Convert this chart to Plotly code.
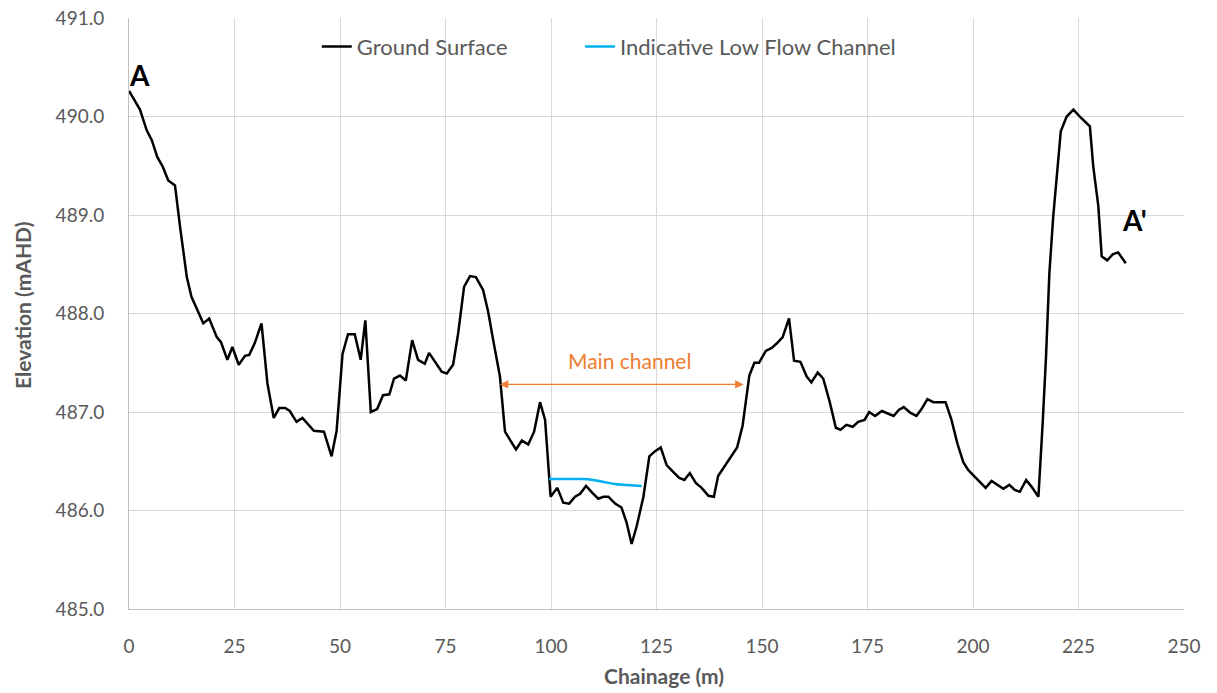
import plotly.graph_objects as go

chainage = [0, 2.6, 4.2, 5.4, 6.7, 8.0, 9.3, 10.9, 12.1, 13.7, 14.8, 16.4, 17.6, 19.0, 20.8, 21.8,
            23.3, 24.5, 26.0, 27.5, 28.5, 29.8, 31.4, 32.8, 34.3, 35.6, 37.0, 38.1, 39.7, 41.1, 42.5,
            43.8, 46.2, 48.0, 49.2, 50.6, 51.9, 53.5, 54.9, 56.0, 57.3, 58.8, 60.2, 61.7, 62.8, 64.2,
            65.6, 67.1, 68.5, 70.1, 71.1, 72.5, 74.1, 75.3, 76.8, 78.0, 79.4, 80.8, 82.2, 83.9, 85.1,
            86.3, 87.9, 89.1, 90.3, 91.7, 93.1, 94.6, 96.0, 97.4, 98.6, 99.9, 101.5, 102.9, 104.3,
            105.7, 106.9, 108.3, 109.8, 111.2, 112.4, 113.6, 115.2, 116.7, 117.9, 119.1, 120.3, 121.9,
            123.3, 124.6, 126.0, 127.4, 129.0, 130.4, 131.6, 132.9, 134.3, 135.7, 137.3, 138.6, 139.6,
            141.2, 142.6, 144.1, 145.4, 146.2, 147.0, 148.2, 149.3, 150.9, 152.3, 153.6, 154.9, 156.4,
            157.6, 159.1, 160.6, 161.7, 163.2, 164.5, 166.0, 167.5, 168.6, 170.0, 171.5, 172.8, 174.3,
            175.4, 176.8, 178.4, 179.7, 181.2, 182.4, 183.6, 185.2, 186.6, 187.8, 189.2, 190.6, 192.0,
            193.5, 194.9, 196.3, 197.7, 198.9, 200.5, 201.7, 203.0, 204.4, 205.7, 207.2, 208.6, 209.9,
            211.1, 212.6, 213.9, 215.5, 216.5, 217.3, 218.1, 219.0, 220.0, 220.8, 222.2, 223.8, 225.5,
            226.5, 227.7, 228.5, 229.7, 230.5, 231.8, 233.1, 234.4, 236.2]
elevation = [490.26, 490.07, 489.86, 489.76, 489.59, 489.49, 489.35, 489.30, 488.88, 488.37, 488.17,
             488.02, 487.90, 487.95, 487.76, 487.71, 487.53, 487.66, 487.48, 487.57, 487.58, 487.70,
             487.90, 487.29, 486.94, 487.04, 487.04, 487.01, 486.90, 486.94, 486.87, 486.81, 486.80,
             486.55, 486.81, 487.59, 487.79, 487.79, 487.53, 487.93, 487.00, 487.03, 487.17, 487.18,
             487.34, 487.37, 487.32, 487.73, 487.53, 487.49, 487.60, 487.51, 487.41, 487.39, 487.48,
             487.80, 488.27, 488.38, 488.37, 488.24, 488.02, 487.73, 487.36, 486.80, 486.72, 486.62,
             486.71, 486.67, 486.80, 487.10, 486.92, 486.14, 486.23, 486.08, 486.07, 486.14, 486.17,
             486.25, 486.18, 486.12, 486.14, 486.14, 486.07, 486.03, 485.88, 485.66, 485.84, 486.14,
             486.55, 486.60, 486.64, 486.46, 486.39, 486.33, 486.31, 486.38, 486.28, 486.23, 486.15,
             486.14, 486.35, 486.45, 486.55, 486.64, 486.86, 487.12, 487.37, 487.50, 487.50, 487.62,
             487.65, 487.70, 487.76, 487.95, 487.52, 487.51, 487.36, 487.30, 487.40, 487.34, 487.11,
             486.84, 486.82, 486.87, 486.85, 486.90, 486.92, 487.00, 486.96, 487.01, 486.99, 486.96,
             487.02, 487.05, 486.99, 486.96, 487.03, 487.13, 487.10, 487.10, 487.10, 486.92, 486.68,
             486.49, 486.41, 486.34, 486.29, 486.23, 486.30, 486.26, 486.22, 486.26, 486.21, 486.19,
             486.31, 486.24, 486.14, 486.88, 487.56, 488.41, 488.98, 489.46, 489.85, 490.00, 490.07,
             489.99, 489.95, 489.90, 489.49, 489.09, 488.58, 488.54, 488.60, 488.62, 488.51]

lowflow_chainage = [99.5, 103.0, 107.5, 110.0, 112.5, 115.0, 118.0, 121.5]
lowflow_elevation = [486.32, 486.32, 486.32, 486.31, 486.29, 486.27, 486.26, 486.25]

x_ticks = [0, 25, 50, 75, 100, 125, 150, 175, 200, 225, 250]
y_ticks = [485.0, 486.0, 487.0, 488.0, 489.0, 490.0, 491.0]

FONT = "Lato"
GRAY = "#595959"
W, H = 1217, 693
ML, MR, MT, MB = 129, 33, 18, 84
PW, PH = W - ML - MR, H - MT - MB


def px_to_paper(px, py):
    return (px - ML) / PW, (H - MB - py) / PH


fig = go.Figure()
fig.add_trace(go.Scatter(x=chainage, y=elevation, mode="lines", name="Ground Surface",
                         line=dict(color="black", width=2.5), legend="legend"))
fig.add_trace(go.Scatter(x=lowflow_chainage, y=lowflow_elevation, mode="lines",
                         name="Indicative Low Flow Channel", legend="legend2",
                         line=dict(color="#00b0f0", width=2.5, shape="spline")))

fig.add_annotation(x=2.6, y=490.42, text="<b>A</b>", showarrow=False,
                   font=dict(family=FONT, size=28, color="black"))
fig.add_annotation(x=238.2, y=488.95, text="<b>A'</b>", showarrow=False,
                   font=dict(family=FONT, size=28, color="black"))
fig.add_annotation(x=87.9, y=487.28, ax=146.0, ay=487.28, xref="x", yref="y",
                   axref="x", ayref="y", text="", showarrow=True, arrowhead=2,
                   startarrowhead=2, arrowside="end+start", arrowsize=1.4, arrowwidth=1.2,
                   arrowcolor="#ed7d31")
fig.add_annotation(x=118.7, y=487.52, text="Main channel", showarrow=False,
                   font=dict(family=FONT, size=21, color="#ed7d31"))

# axis titles as annotations (paper coordinates = plot-area fractions)
cx, cy = px_to_paper(664, 675)
fig.add_annotation(x=cx, y=cy, xref="paper", yref="paper", xanchor="center",
                   yanchor="middle", text="<b>Chainage (m)</b>", showarrow=False,
                   font=dict(family=FONT, size=21, color=GRAY))
ex, ey = px_to_paper(22, 306)
fig.add_annotation(x=ex, y=ey, xref="paper", yref="paper", xanchor="center",
                   yanchor="middle", text="<b>Elevation (mAHD)</b>", showarrow=False,
                   textangle=-90, font=dict(family=FONT, size=21, color=GRAY))

fig.update_layout(
    width=W, height=H,
    margin=dict(l=ML, r=MR, t=MT, b=MB),
    plot_bgcolor="white", paper_bgcolor="white",
    font=dict(family=FONT, size=19, color=GRAY),
    showlegend=True,
    legend=dict(orientation="h", x=0.178, y=0.987, xanchor="left", yanchor="top",
                bgcolor="rgba(0,0,0,0)", font=dict(family=FONT, size=22, color=GRAY)),
    legend2=dict(orientation="h", x=0.4275, y=0.987, xanchor="left", yanchor="top",
                 bgcolor="rgba(0,0,0,0)", font=dict(family=FONT, size=22, color=GRAY)),
    xaxis=dict(range=[0, 250], tickvals=x_ticks, ticktext=[str(v) for v in x_ticks],
               showgrid=True, gridcolor="#d9d9d9", gridwidth=1, automargin=False,
               showline=True, linecolor="#bfbfbf", linewidth=1, zeroline=False,
               ticks="outside", ticklen=20, tickcolor="rgba(0,0,0,0)",
               tickfont=dict(family=FONT, size=19, color=GRAY)),
    yaxis=dict(range=[485, 491], tickvals=y_ticks, ticktext=[f"{v:.1f}" for v in y_ticks],
               showgrid=True, gridcolor="#d9d9d9", gridwidth=1, automargin=False,
               showline=True, linecolor="#bfbfbf", linewidth=1, zeroline=False,
               ticks="outside", ticklen=20, tickcolor="rgba(0,0,0,0)",
               tickfont=dict(family=FONT, size=19, color=GRAY)),
)

fig.write_html("out.html")
